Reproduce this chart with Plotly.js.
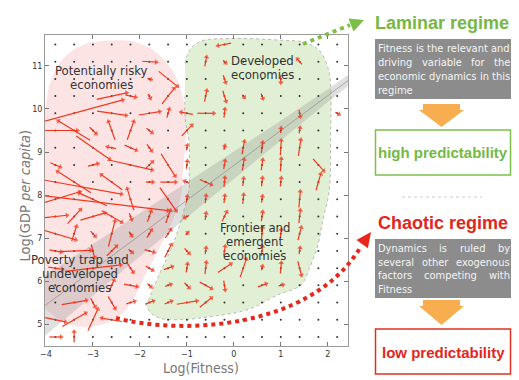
<!DOCTYPE html>
<html>
<head>
<meta charset="utf-8">
<script src="https://cdn.plot.ly/plotly-3.0.1.min.js"></script>
<style>
  html, body { margin: 0; padding: 0; background: #fff; }
  #chart { width: 519px; height: 380px; }
</style>
</head>
<body>
<div id="chart"></div>
<script>
// grid of the vector field
const gridX = [-3.8, -3.4, -3.0, -2.6, -2.2, -1.8, -1.4, -1.0, -0.6, -0.2, 0.2, 0.6, 1.0, 1.4, 1.8, 2.2];
const gridY = [4.7, 5.1, 5.5, 5.9, 6.3, 6.7, 7.1, 7.5, 7.9, 8.3, 8.7, 9.1, 9.5, 9.9, 10.3, 10.7, 11.1, 11.5];

// arrows: centre (x, y) and displacement (u, v)
const arrowX = [-1.8, -1.4, -1.8, -2.6, -2.2, -1.8, -1.4, -3.4, -2.6, -1.8, -1.4, -1.0,
  -3.8, -3.4, -3.0, -2.6, -2.2, -1.8, -1.0, -3.0, -2.6, -2.2, -1.8, -2.2, -3.8, -3.0, -1.8, -1.4,
  -3.4, -3.8, -2.6, -1.8, -1.4, -3.4, -3.8, -3.0, -2.2, -1.4,
  -3.8, -3.4, -3.0, -2.6, -2.2, -1.8, -1.4, -3.8, -3.4, -3.0, -2.6, -2.2, -1.8, -1.4,
  -3.8, -3.4, -3.0, -2.6, -2.2, -1.8, -1.4, -3.0, -2.2, -1.8, -1.4, -3.8,
  -2.2, -2.6, -1.8, -1.4, -3.4, -3.0, -2.6, -2.2, -1.8, -1.4, -3.8, -3.4, -3.0, -2.6, -3.8, -3.4,
  -0.2, -0.6, -0.2, 1.4, -0.2, 1.0, -0.6, -0.2, 0.2, 0.6, -0.6, -0.2, 1.4, 2.2, 1.0, 1.4,
  0.2, 0.6, 1.0, 1.4, -0.2, -1.0, 0.2, 0.6, 1.0, 1.8, -0.2, -1.0,
  -0.6, -0.2, 0.2, 0.6, 1.0, 1.8, -1.0, -1.0, -0.6, -0.2, 0.2, 0.6, 1.4,
  -1.0, -0.6, -0.2, 0.6, 1.4, -1.0, 0.6, 1.4, 1.0, -1.0, -0.6, -0.2, 0.6, 1.4,
  -1.0, -0.6, -0.2, 0.2, 1.0, 1.4, 0.6, -1.0, -0.6, -0.2, 0.6, 1.0, -1.0, -0.6];
const arrowY = [11.1, 10.7, 10.7, 10.3, 10.3, 10.3, 10.3, 9.9, 9.9, 9.9, 9.9, 9.9,
  9.5, 9.5, 9.5, 9.5, 9.5, 9.5, 9.5, 9.1, 9.1, 9.1, 9.1, 8.7, 8.7, 8.7, 8.7, 8.7,
  8.3, 8.3, 8.3, 8.3, 8.3, 7.9, 7.9, 7.9, 7.9, 7.9,
  7.5, 7.5, 7.5, 7.5, 7.5, 7.5, 7.5, 7.1, 7.1, 7.1, 7.1, 7.1, 7.1, 7.1,
  6.7, 6.7, 6.7, 6.7, 6.7, 6.7, 6.7, 6.3, 6.3, 6.3, 6.3, 6.3,
  5.9, 5.9, 5.9, 5.9, 5.5, 5.5, 5.5, 5.5, 5.5, 5.5, 5.1, 5.1, 5.1, 5.1, 4.7, 4.7,
  11.5, 11.1, 11.1, 11.1, 10.7, 10.7, 10.3, 10.3, 10.3, 10.3, 9.9, 9.9, 9.9, 9.9, 9.5, 9.5,
  9.1, 9.1, 9.1, 9.1, 9.1, 9.1, 8.7, 8.7, 8.7, 8.7, 8.7, 8.7,
  8.3, 8.3, 8.3, 8.3, 8.3, 8.3, 8.3, 7.9, 7.9, 7.9, 7.9, 7.9, 7.9,
  7.5, 7.5, 7.5, 7.5, 7.5, 7.1, 7.1, 7.1, 7.1, 6.7, 6.7, 6.7, 6.7, 6.7,
  6.3, 6.3, 6.3, 6.3, 6.3, 6.3, 6.3, 5.9, 5.9, 5.9, 5.9, 5.9, 5.5, 5.5];
const arrowU = [0.30, 0.40, 0.08, 0.64, 0.22, 0.05, 0.26, 2.08, 0.62, 0.45, 0.05, -0.25,
  0.94, -0.68, 0.14, -0.14, 0.14, 0.12, 0.22, 0.71, -0.18, 0.25, 0.10, 0.92, 0.21, 0.21, 0.14, 0.30,
  -0.71, 2.82, -0.45, 0.15, 0.33, 4.0, 1.05, -0.60, -0.14, 0.35,
  0.50, 0.28, 0.53, 0.43, 0.05, 0.08, 0.10, 0.87, 0.10, 0.10, 0.14, 0.06, 0.10, 0.12,
  0.25, 0.70, 0.07, 0.21, 0.08, 0.20, 0.14, 1.19, 0.12, 0.15, 0.18, 0.30,
  0.28, 0.10, 0.08, 0.12, 0.53, 0.10, 0.15, 0.18, 0.18, 0.15, 0.43, 0.50, 0.21, -0.43, 0.25, 0.0,
  -0.28, 0.04, 0.06, -0.10, 0.05, 0.0, 0.05, 0.07, 0.05, 0.04, 0.35, 0.02, 0.03, 0.08, 0.01, 0.02,
  0.05, 0.03, 0.02, 0.05, 0.02, 0.02, 0.04, 0.03, 0.02, 0.23, 0.03, 0.02,
  0.25, 0.02, 0.02, 0.02, 0.02, 0.10, -0.10, 0.02, 0.02, 0.02, 0.02, 0.02, 0.03,
  -0.10, 0.02, 0.10, 0.03, 0.03, 0.05, 0.03, 0.07, 0.02, 0.10, 0.02, 0.03, 0.02, 0.02,
  0.03, 0.03, 0.28, 0.13, 0.02, 0.08, 0.02, 0.10, 0.25, 0.03, 0.18, 0.10, 0.43, 0.25];
const arrowV = [-0.02, -0.35, -0.03, 0.15, -0.05, -0.10, 0.36, 0.62, -0.10, 0.08, 0.20, 0.05,
  0.0, 0.45, -0.15, 0.43, 0.43, -0.10, 0.25, -0.54, 0.04, -0.12, -0.15, -0.23, -0.10, 0.06, 0.15, -0.52,
  0.50, -0.56, 0.35, 0.0, 0.0, -0.53, 0.35, 0.30, 0.50, -0.54,
  0.06, 0.33, 0.17, -0.27, -0.15, 0.25, 0.30, -0.28, 0.35, -0.12, 0.60, -0.10, 0.18, 0.20,
  -0.05, 0.03, -0.30, 0.23, -0.08, -0.06, 0.30, 0.15, -0.20, -0.10, 0.07, -0.05,
  -0.06, 0.25, -0.08, 0.05, 0.10, -0.20, -0.28, 0.06, 0.08, 0.07, -0.10, 0.31, 0.50, 0.08, 0.0, 0.25,
  -0.06, 0.22, -0.06, 0.13, -0.17, -0.18, 0.26, -0.25, -0.06, -0.12, 0.0, 0.20, -0.16, -0.05, 0.12, 0.14,
  0.30, 0.25, 0.35, 0.38, 0.10, 0.12, 0.26, 0.25, 0.30, -0.28, 0.20, 0.18,
  -0.12, 0.22, 0.18, 0.20, 0.20, 0.38, 0.05, 0.15, 0.18, 0.18, 0.22, 0.15, 0.38,
  -0.05, 0.16, 0.22, 0.22, 0.30, 0.06, 0.30, 0.30, 0.20, -0.12, 0.15, 0.22, 0.22, 0.15,
  0.20, 0.28, 0.20, 0.42, 0.25, -0.33, 0.10, -0.12, -0.15, -0.22, 0.07, 0.03, 0.08, 0.22];

// regression line and its band
const bandX = [-4.02, -3, -2, -1, 0, 1, 2, 2.43];
const bandHigh = [6.13, 6.86, 7.57, 8.28, 9.00, 9.73, 10.46, 10.79];
const bandLow = [4.73, 5.66, 6.57, 7.48, 8.38, 9.27, 10.16, 10.53];
const fitX = [-4.02, 2.43];
const fitY = [5.43, 10.66];

// highlighted regions
const pinkX = [-4.05, -3.91, -3.63, -3.21, -2.64, -2.14, -1.72, -1.36, -1.15, -1.04, -1.02, -1.08, -1.12, -1.30, -1.57, -1.86, -2.07, -2.36, -2.71, -3.21, -3.70, -4.05];
const pinkY = [9.59, 10.60, 11.18, 11.49, 11.59, 11.57, 11.37, 10.98, 10.52, 9.98, 9.28, 8.66, 8.00, 7.42, 6.80, 6.19, 5.72, 5.26, 5.02, 4.93, 5.09, 5.40];
const greenX = [-1.04, -0.94, -0.72, -0.09, 0.98, 1.50, 1.82, 2.00, 2.06, 2.06, 2.03, 1.89, 1.79, 1.61, 1.43, 0.94, 0.28, -0.45, -1.17, -1.59, -1.79, -1.86, -1.80, -1.59, -1.30, -1.09, -0.95, -0.95, -0.95, -1.04, -1.04];
const greenY = [11.06, 11.37, 11.57, 11.64, 11.60, 11.55, 11.36, 10.97, 10.58, 9.42, 8.10, 7.39, 6.84, 6.30, 5.91, 5.68, 5.33, 5.18, 5.10, 5.14, 5.29, 5.48, 5.60, 6.15, 6.84, 7.54, 8.16, 8.49, 9.19, 9.81, 10.29];

// region labels
const regionLines = [
  ["Potentially risky", "economies"],
  ["Developed", "economies"],
  ["Frontier and", "emergent", "economies"],
  ["Poverty trap and", "undeveloped", "economies"]
];
const regionX = [-2.81, 0.62, 0.45, -3.28];
const regionTop = [10.89, 11.12, 7.24, 6.49];

const laminarText = ["Fitness is the relevant and", "driving variable for the", "economic dynamics in this", "regime"];
const chaoticText = ["Dynamics is ruled by", "several other exogenous", "factors competing with", "Fitness"];

const COND = '"DejaVu Sans Condensed", "Liberation Sans", sans-serif';
const SANS = '"Liberation Sans", Arial, sans-serif';
const RED = '#f2361c';

// pixel -> paper helpers for the right hand panel (plot area 45..348 x 35..346)
const P = px => (px - 45) / 303;
const Q = py => (346 - py) / 311;

const build_chart = () => {
  const chart = document.querySelector("#chart");

  const dotX = [], dotY = [];
  gridY.forEach(y => gridX.forEach(x => { dotX.push(x); dotY.push(y); }));

  const ax = [], ay = [], asz = [];
  arrowX.forEach((x, i) => {
    const u = arrowU[i], v = arrowV[i], y = arrowY[i];
    ax.push(x - u / 2, x + u / 2, null);
    ay.push(y - v / 2, y + v / 2, null);
    asz.push(0, 5, 0);
  });

  const data = [
    { x: pinkX, y: pinkY, type: 'scatter', mode: 'lines', fill: 'toself',
      fillcolor: 'rgba(250,190,190,0.42)', line: { width: 0, shape: 'spline' }, hoverinfo: 'skip' },
    { x: greenX, y: greenY, type: 'scatter', mode: 'lines', fill: 'toself',
      fillcolor: 'rgba(195,226,170,0.5)', line: { width: 1, color: 'rgba(170,170,170,0.8)', dash: 'dot', shape: 'spline' }, hoverinfo: 'skip' },
    { x: bandX.concat(bandX.slice().reverse()), y: bandHigh.concat(bandLow.slice().reverse()),
      type: 'scatter', mode: 'lines', fill: 'toself', fillcolor: 'rgba(140,140,140,0.28)',
      line: { width: 0 }, hoverinfo: 'skip' },
    { x: fitX, y: fitY, type: 'scatter', mode: 'lines',
      line: { width: 0.8, color: 'rgba(110,110,110,0.6)' }, hoverinfo: 'skip' },
    { x: dotX, y: dotY, type: 'scatter', mode: 'markers',
      marker: { size: 2, color: '#333' }, hoverinfo: 'skip' },
    { x: ax, y: ay, type: 'scatter', mode: 'lines+markers', connectgaps: false,
      line: { width: 1.2, color: RED },
      marker: { symbol: 'triangle-up', size: asz, color: RED, angleref: 'previous', line: { width: 0 } },
      hoverinfo: 'skip' }
  ];

  const annotations = [];
  const stepY = 14 / 43;
  regionLines.forEach((lines, k) => {
    lines.forEach((t, j) => {
      annotations.push({ x: regionX[k], y: regionTop[k] - j * stepY, xref: 'x', yref: 'y',
        xanchor: 'center', yanchor: 'middle',
        text: t, showarrow: false, borderpad: 0,
        font: { family: COND, size: 13, color: '#333' } });
    });
  });

  // axis titles, placed where the reference has them
  annotations.push({ xref: 'paper', yref: 'paper', x: P(201), y: Q(368), xanchor: 'center', yanchor: 'middle',
    text: 'Log(Fitness)', showarrow: false, borderpad: 0, font: { family: COND, size: 14, color: '#777' } });
  annotations.push({ xref: 'paper', yref: 'paper', x: P(24.5), y: Q(196), xanchor: 'center', yanchor: 'middle',
    textangle: -90, text: 'Log(GDP <i>per capita</i>)', showarrow: false, borderpad: 0,
    font: { family: COND, size: 14.5, color: '#777' } });

  // justified white text in the grey boxes
  const BOXSIZE = 11;
  const ctx = document.createElement('canvas').getContext('2d');
  ctx.font = BOXSIZE + 'px ' + COND;
  const justify = (lines, left, width, top, step) => {
    lines.forEach((line, i) => {
      const words = line.split(' ');
      const widths = words.map(w => ctx.measureText(w).width);
      const total = widths.reduce((a, b) => a + b, 0);
      const space = ctx.measureText(' ').width;
      const gap = (i === lines.length - 1 || words.length < 2) ? space
        : Math.max(space * 0.8, (width - total) / (words.length - 1));
      let x = left;
      words.forEach((w, j) => {
        annotations.push({ xref: 'paper', yref: 'paper', x: P(x), y: Q(top + i * step),
          xanchor: 'left', yanchor: 'middle', text: w, showarrow: false, borderpad: 0,
          font: { family: COND, size: BOXSIZE, color: '#f4f4f4' } });
        x += widths[j] + gap;
      });
    });
  };
  justify(laminarText, 377, 132, 48.5, 14);
  justify(chaoticText, 377, 132, 248.5, 13.7);

  const heads = [
    { t: '<b>Laminar regime</b>', x: 442, y: 23, c: '#77b843', s: 18 },
    { t: '<b>high predictability</b>', x: 443, y: 152, c: '#74b944', s: 15 },
    { t: '<b>Chaotic regime</b>', x: 443, y: 223, c: '#e2261b', s: 18 },
    { t: '<b>low predictability</b>', x: 443, y: 352, c: '#e2261b', s: 15 }
  ];
  heads.forEach(h => annotations.push({ xref: 'paper', yref: 'paper', x: P(h.x), y: Q(h.y),
    xanchor: 'center', yanchor: 'middle',
    text: h.t, showarrow: false, font: { family: SANS, size: h.s, color: h.c } }));

  const path = pts => 'M' + pts.map(p => P(p[0]) + ',' + Q(p[1])).join(' L') + ' Z';
  const shapes = [
    { type: 'rect', xref: 'paper', yref: 'paper', x0: P(375), x1: P(511), y0: Q(99), y1: Q(39),
      fillcolor: '#8c8c8c', line: { width: 0 } },
    { type: 'path', xref: 'paper', yref: 'paper', fillcolor: '#f8ae4f', line: { width: 0 },
      path: path([[423, 104], [460, 104], [460, 110], [464, 110], [441.5, 127], [419, 110], [423, 110]]) },
    { type: 'rect', xref: 'paper', yref: 'paper', x0: P(375.5), x1: P(510.5), y0: Q(175), y1: Q(130),
      fillcolor: '#fff', line: { width: 1.5, color: '#7cc04b' } },
    { type: 'line', xref: 'paper', yref: 'paper', x0: P(402), x1: P(482), y0: Q(197), y1: Q(197),
      line: { width: 1, color: '#cfcfcf', dash: 'dot' } },
    { type: 'rect', xref: 'paper', yref: 'paper', x0: P(375), x1: P(511), y0: Q(298), y1: Q(239),
      fillcolor: '#8c8c8c', line: { width: 0 } },
    { type: 'path', xref: 'paper', yref: 'paper', fillcolor: '#f8ae4f', line: { width: 0 },
      path: path([[423, 300], [460, 300], [460, 306], [464, 306], [441.5, 325], [419, 306], [423, 306]]) },
    { type: 'rect', xref: 'paper', yref: 'paper', x0: P(375.5), x1: P(510.5), y0: Q(374), y1: Q(329),
      fillcolor: '#fff', line: { width: 1.5, color: '#e0301e' } },
    // green dotted pointer
    { type: 'line', xref: 'paper', yref: 'paper', x0: P(303), y0: Q(44), x1: P(350), y1: Q(25),
      line: { width: 4, color: '#7dbf45', dash: '4px,4px' } },
    { type: 'path', xref: 'paper', yref: 'paper', fillcolor: '#7dbf45', line: { width: 0 },
      path: path([[364, 20], [353.6, 31.6], [348.4, 18.6]]) },
    // red dotted pointer
    { type: 'path', xref: 'paper', yref: 'paper', line: { width: 4, color: '#e8261b', dash: '4px,4px' },
      path: 'M' + P(116) + ',' + Q(318) + ' C' + P(180) + ',' + Q(335) + ' ' + P(310) + ',' + Q(330) + ' ' + P(360) + ',' + Q(248) },
    { type: 'path', xref: 'paper', yref: 'paper', fillcolor: '#e8261b', line: { width: 0 },
      path: path([[371, 232], [367.9, 248.3], [356.5, 240.1]]) }
  ];

  const axisStyle = {
    showline: true, linecolor: '#9a9a9a', linewidth: 1, mirror: 'ticks',
    ticks: 'inside', ticklen: 4, tickcolor: '#777', tickwidth: 1,
    showgrid: false, zeroline: false, dtick: 1,
    tickfont: { family: '"DejaVu Sans", sans-serif', size: 8, color: '#333' }
  };

  const layout = {
    width: 519, height: 380,
    margin: { l: 45, r: 171, t: 35, b: 34 },
    paper_bgcolor: '#fff', plot_bgcolor: '#fff',
    showlegend: false,
    xaxis: Object.assign({}, axisStyle, { range: [-4.02, 2.43], automargin: false }),
    yaxis: Object.assign({}, axisStyle, { range: [4.49, 11.72], automargin: false }),
    annotations: annotations,
    shapes: shapes
  };

  Plotly.newPlot(chart, data, layout, { displayModeBar: false, staticPlot: true });
};

document.addEventListener("DOMContentLoaded", build_chart);
</script>
</body>
</html>
